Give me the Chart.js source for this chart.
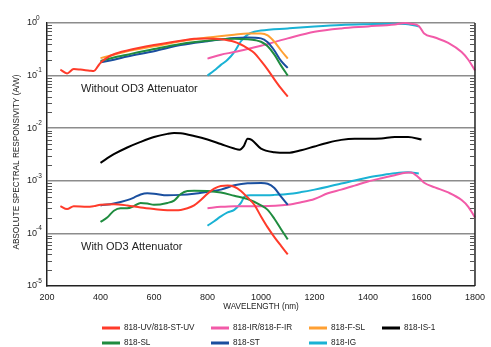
<!DOCTYPE html>
<html><head><meta charset="utf-8">
<script src="https://cdn.jsdelivr.net/npm/chart.js@4/dist/chart.umd.min.js"></script>
<style>
html,body{margin:0;padding:0;background:#fff;}
#wrap{position:relative;width:491px;height:347px;font-family:"Liberation Sans",Arial,sans-serif;overflow:hidden;}
#c{position:absolute;left:0;top:0;}
.lt{position:absolute;font-size:8.2px;color:#222;line-height:10px;white-space:nowrap;transform:translateY(-50%);}
.sw{position:absolute;width:18px;height:3px;transform:translateY(-50%);}
</style></head><body>
<div id="wrap"><canvas id="c" width="491" height="347"></canvas><div id="legend"></div></div>
<script>
// ---- data (wavelength in nm, responsivity in A/W) ----
const uvNm      = [250,275,300,325,360,375,390,400,425,450,500,600,700,750,800,850,900,925,950,975,1000,1025,1050,1075,1100];
const uvBare    = [0.13,0.11,0.133,0.13,0.124,0.122,0.15,0.175,0.22,0.255,0.30,0.38,0.46,0.50,0.51,0.49,0.44,0.39,0.33,0.27,0.19,0.13,0.085,0.057,0.040];
const uvAttNm   = [250,275,300,350,375,400,450,500,550,600,650,700,725,750,775,800,825,850,875,900,925,950,975,1000,1025,1050,1075,1100];
const uvAtt     = [0.00033,0.00029,0.00033,0.00032,0.00033,0.00035,0.00036,0.00034,0.00031,0.00029,0.000275,0.00028,0.00030,0.00034,0.00043,0.00057,0.00071,0.00080,0.00081,0.00077,0.00064,0.00048,0.00035,0.00021,0.00013,0.000085,0.000058,0.00004];

const irNm      = [800,850,900,950,1000,1100,1200,1300,1400,1500,1540,1560,1590,1610,1650,1700,1750,1775,1800];
const irBare    = [0.21,0.25,0.28,0.32,0.37,0.51,0.68,0.79,0.86,0.94,1.0,0.97,0.88,0.63,0.53,0.42,0.28,0.20,0.125];
const irAttNm   = [800,850,900,1000,1100,1150,1200,1250,1300,1350,1400,1450,1500,1540,1560,1590,1610,1650,1700,1750,1775,1800];
const irAtt     = [0.00030,0.00032,0.00033,0.00033,0.00035,0.00039,0.00045,0.00058,0.00068,0.00081,0.00097,0.00112,0.00128,0.00143,0.00144,0.00115,0.00092,0.00075,0.00060,0.00043,0.00032,0.00020];

const fslNm     = [400,450,500,600,700,800,900,950,1000,1025,1050,1075,1100];
const fslBare   = [0.215,0.25,0.29,0.36,0.45,0.53,0.60,0.63,0.63,0.58,0.44,0.30,0.21];

const is1Nm     = [400,450,500,550,600,650,675,700,750,800,850,900,920,935,950,965,1000,1050,1100,1150,1200,1250,1300,1350,1400,1450,1500,1550,1600];
const is1Att    = [0.0022,0.0032,0.0043,0.0055,0.0068,0.0078,0.0081,0.0080,0.0071,0.0061,0.0050,0.0041,0.0039,0.0045,0.0063,0.0060,0.0041,0.0035,0.0034,0.0038,0.0045,0.0053,0.0060,0.0063,0.0063,0.0064,0.0068,0.0068,0.0061];

const slNm      = [400,450,500,600,700,800,900,950,980,1000,1025,1050,1075,1100];
const slBare    = [0.19,0.22,0.25,0.32,0.40,0.46,0.50,0.49,0.47,0.44,0.36,0.25,0.155,0.10];
const slAttNm   = [400,425,450,475,500,525,550,575,600,650,675,700,725,750,800,850,900,950,1000,1025,1050,1075,1100];
const slAtt     = [0.000165,0.0002,0.00027,0.00030,0.00030,0.00033,0.00038,0.00037,0.00035,0.00038,0.00042,0.00056,0.00064,0.00065,0.00064,0.00060,0.00052,0.00045,0.00034,0.00028,0.00019,0.00012,0.000077];

const stNm      = [400,450,500,600,700,800,900,950,1000,1025,1050,1075,1100];
const stBare    = [0.18,0.20,0.23,0.29,0.38,0.45,0.52,0.53,0.51,0.43,0.30,0.19,0.14];
const stAttNm   = [400,450,500,525,550,575,600,650,700,750,800,850,900,950,1000,1025,1050,1075,1100];
const stAtt     = [0.00034,0.00037,0.00043,0.00048,0.00055,0.00058,0.00057,0.00053,0.00054,0.00057,0.00062,0.00068,0.00082,0.00090,0.00091,0.00088,0.00073,0.00050,0.00035];

const igNm      = [800,825,850,875,900,925,950,975,1000,1100,1200,1300,1400,1500,1550,1590];
const igBare    = [0.10,0.125,0.16,0.20,0.28,0.45,0.60,0.68,0.72,0.79,0.86,0.92,0.95,0.97,0.95,0.86];
const igAttNm   = [800,825,850,875,900,925,940,960,1000,1050,1100,1150,1200,1250,1300,1350,1400,1450,1500,1550,1590];
const igAtt     = [0.00014,0.00017,0.00021,0.00025,0.00028,0.00038,0.00051,0.00053,0.00053,0.00054,0.00056,0.00061,0.00068,0.00077,0.00089,0.00101,0.00116,0.00128,0.00139,0.00145,0.00137];

const yDecades  = [0,-1,-2,-3,-4,-5];
const xTicks    = [200,400,600,800,1000,1200,1400,1600,1800];
const legendNames = ['818-UV/818-ST-UV','818-IR/818-F-IR','818-F-SL','818-IS-1','818-SL','818-ST','818-IG'];
const legendColors = ['#ff3b2a','#f25aa8','#ffa033','#000000','#1f8c3f','#1a4f9f','#1ab2d4'];

const FONT = '"Liberation Sans", Arial, sans-serif';
const pts = (xs, ys) => xs.map((x,i)=>({x:x, y:ys[i]}));
const ds = (xs, ys, color) => ({data: pts(xs, ys), borderColor: color, backgroundColor: color, borderWidth: 2,
  pointRadius: 0, tension: 0.35, cubicInterpolationMode: 'monotone', fill: false, clip: 3});

const C = legendColors;
const datasets = [
  ds(uvNm, uvBare, C[0]), ds(uvAttNm, uvAtt, C[0]),
  ds(slNm, slBare, C[4]), ds(slAttNm, slAtt, C[4]),
  ds(stNm, stBare, C[5]), ds(stAttNm, stAtt, C[5]),
  ds(fslNm, fslBare, C[2]),
  ds(is1Nm, is1Att, C[3]),
  ds(irNm, irBare, C[1]), ds(irAttNm, irAtt, C[1]),
  ds(igNm, igBare, C[6]), ds(igAttNm, igAtt, C[6])
];

const isDecade = v => { const l = Math.log10(v); return Math.abs(l - Math.round(l)) < 1e-6; };

const decor = {
  id: 'decor',
  afterDraw(chart) {
    const {ctx, chartArea: a, scales: {x, y}} = chart;
    ctx.save();
    // right border
    ctx.strokeStyle = '#222'; ctx.lineWidth = 1.5;
    ctx.beginPath(); ctx.moveTo(a.right, a.top); ctx.lineTo(a.right, a.bottom); ctx.stroke();
    // minor ticks
    ctx.strokeStyle = '#555'; ctx.lineWidth = 1;
    for (let k = -5; k < 0; k++) {
      for (let m = 2; m <= 9; m++) {
        const py = Math.round(y.getPixelForValue(m * Math.pow(10, k))) + 0.5;
        ctx.beginPath(); ctx.moveTo(a.left, py); ctx.lineTo(a.left + 5, py); ctx.stroke();
        ctx.beginPath(); ctx.moveTo(a.right - 5, py); ctx.lineTo(a.right, py); ctx.stroke();
      }
    }
    // y tick labels 10^k
    ctx.fillStyle = '#222'; ctx.textBaseline = 'middle'; ctx.textAlign = 'left';
    yDecades.forEach(k => {
      const py = y.getPixelForValue(Math.pow(10, k));
      ctx.font = '9px ' + FONT;
      ctx.fillText('10', 27, py);
      ctx.font = '6.5px ' + FONT;
      ctx.fillText(String(k), 36, py - 5);
    });
    // annotations
    ctx.font = '11px ' + FONT; ctx.fillStyle = '#222';
    ctx.fillText('Without OD3 Attenuator', 81, y.getPixelForValue(0.055));
    ctx.fillText('With OD3 Attenuator', 81, y.getPixelForValue(0.000055));
    // axis titles
    ctx.font = '8.2px ' + FONT; ctx.textAlign = 'center';
    ctx.fillText('WAVELENGTH (nm)', (a.left + a.right) / 2, 307);
    ctx.save();
    ctx.translate(17, 162); ctx.rotate(-Math.PI / 2);
    ctx.fillText('ABSOLUTE SPECTRAL RESPONSIVITY (A/W)', 0, 0);
    ctx.restore();
    ctx.restore();
  }
};

new Chart(document.getElementById('c'), {
  type: 'line',
  data: {datasets},
  plugins: [decor],
  options: {
    responsive: false, animation: false, devicePixelRatio: 1,
    layout: {padding: {left: 47, right: 9, top: 23, bottom: 31}},
    plugins: {legend: {display: false}, tooltip: {enabled: false}},
    scales: {
      x: {
        type: 'linear', min: 200, max: 1800,
        afterFit(s) { s.height = 30; },
        afterBuildTicks(s) { s.ticks = xTicks.map(v => ({value: v})); },
        ticks: {font: {size: 9, family: FONT}, color: '#222', padding: 6, maxRotation: 0, autoSkip: false,
          callback: v => String(v)},
        grid: {display: true, drawTicks: false, color: 'rgba(0,0,0,0)'},
        border: {display: true, color: '#222', width: 1.5}
      },
      y: {
        type: 'logarithmic', min: 1e-5, max: 1,
        afterFit(s) { s.width = 0; },
        ticks: {display: false},
        grid: {drawTicks: false, lineWidth: 1.5,
          color: c => (c.tick && isDecade(c.tick.value) && c.tick.value < 0.99 && c.tick.value > 1.1e-5) || (c.tick && Math.abs(c.tick.value - 1) < 1e-9) ? '#8c8c8c' : 'rgba(0,0,0,0)'},
        border: {display: true, color: '#222', width: 1.5}
      }
    }
  }
});

// legend (HTML)
const colX = [102, 211, 309, 382];
const rowY = [327.5, 342.5];
const lg = document.getElementById('legend');
legendNames.forEach((n, i) => {
  const r = i < 4 ? 0 : 1, c = i < 4 ? i : i - 4;
  const sw = document.createElement('div');
  sw.className = 'sw'; sw.style.left = colX[c] + 'px'; sw.style.top = rowY[r] + 'px'; sw.style.background = legendColors[i];
  const t = document.createElement('div');
  t.className = 'lt'; t.style.left = (colX[c] + 22) + 'px'; t.style.top = rowY[r] + 'px'; t.textContent = n;
  lg.appendChild(sw); lg.appendChild(t);
});
</script>
</body></html>
